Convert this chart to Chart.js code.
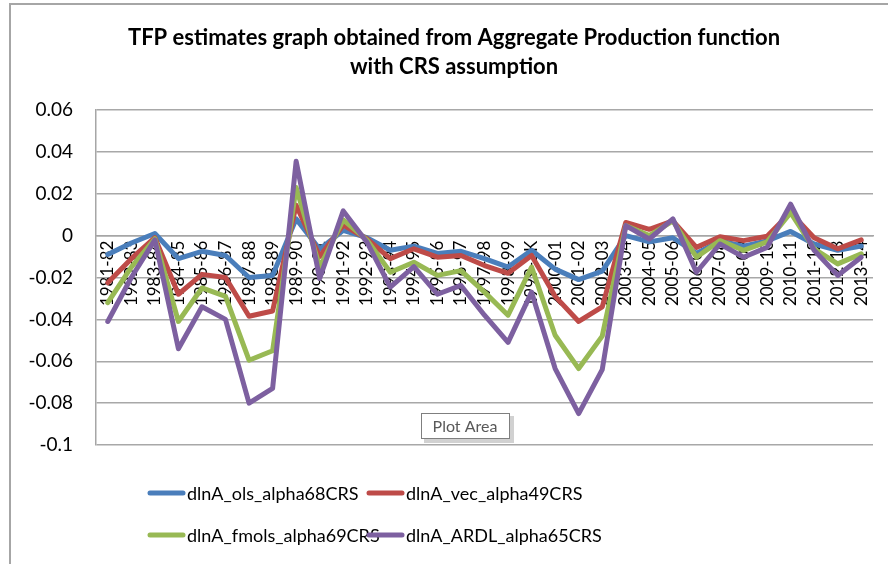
<!DOCTYPE html>
<html>
<head>
<meta charset="utf-8">
<title>TFP estimates</title>
<script src="https://cdn.jsdelivr.net/npm/chart.js@4.4.1/dist/chart.umd.min.js"></script>
<style>
  html, body { margin: 0; padding: 0; background: #fff; }
  #wrap { position: relative; width: 888px; height: 564px; }
</style>
</head>
<body>
<div id="wrap"><canvas id="graph-tfp" width="888" height="564"></canvas></div>
<script>

// Data.
const years = [
  '1981-82', '1982-83', '1983-84', '1984-85', '1985-86', '1986-87', '1987-88',
  '1988-89', '1989-90', '1990-91', '1991-92', '1992-93', '1993-94', '1994-95',
  '1995-96', '1996-97', '1997-98', '1998-99', '1999-2K', '2000-01', '2001-02',
  '2002-03', '2003-04', '2004-05', '2005-06', '2006-07', '2007-08', '2008-09',
  '2009-10', '2010-11', '2011-12', '2012-13', '2013-14'
];

const olsAlpha68 = [
  -0.009, -0.0035, 0.001, -0.011, -0.0075, -0.0095, -0.020, -0.019, 0.008,
  -0.0065, 0.0025, -0.001, -0.007, -0.005, -0.0085, -0.0075, -0.011, -0.015,
  -0.007, -0.016, -0.021, -0.017, 0.000, -0.003, -0.001, -0.0085, -0.0025,
  -0.005, -0.0025, 0.002, -0.004, -0.007, -0.005
];

const vecAlpha49 = [
  -0.0225, -0.011, -0.001, -0.028, -0.0185, -0.020, -0.0385, -0.036, 0.0145,
  -0.010, 0.005, -0.0015, -0.011, -0.0063, -0.0103, -0.0095, -0.0143, -0.018,
  -0.0095, -0.029, -0.041, -0.034, 0.0063, 0.003, 0.007, -0.0056, -0.0005,
  -0.0024, -0.0003, 0.011, -0.001, -0.0063, -0.002
];

const fmolsAlpha69 = [
  -0.032, -0.015, -0.0015, -0.041, -0.025, -0.029, -0.0595, -0.055, 0.023,
  -0.015, 0.0075, -0.002, -0.0175, -0.0127, -0.019, -0.0167, -0.027, -0.038,
  -0.015, -0.0476, -0.0635, -0.048, 0.0048, 0.000, 0.007, -0.0103, -0.0024,
  -0.007, -0.003, 0.011, -0.0063, -0.0135, -0.0087
];

const ardlAlpha65 = [
  -0.041, -0.020, -0.002, -0.054, -0.034, -0.040, -0.080, -0.073, 0.0355,
  -0.0205, 0.0118, -0.003, -0.0246, -0.0148, -0.028, -0.0238, -0.038, -0.051,
  -0.027, -0.0635, -0.085, -0.064, 0.0048, -0.0016, 0.008, -0.0175, -0.004,
  -0.0103, -0.0056, 0.015, -0.007, -0.019, -0.0103
];

const seriesNames = [
  'dlnA_ols_alpha68CRS', 'dlnA_vec_alpha49CRS',
  'dlnA_fmols_alpha69CRS', 'dlnA_ARDL_alpha65CRS'
];
const seriesColors = ['#4a7ebb', '#be4b48', '#98b954', '#7d60a0'];

const titleLines = [
  'TFP estimates graph obtained from Aggregate Production function',
  'with CRS assumption'
];

const yTicks = { min: -0.1, max: 0.06, step: 0.02 };


const FONT = 'Lato, "Open Sans", sans-serif';


// Excel-ish decorations: frame, title, 2x2 legend and the "Plot Area" hint.
const decorations = {
  id: 'decorations',

  beforeDraw(chart) {
    const ctx = chart.ctx;
    ctx.save();
    ctx.strokeStyle = '#a6a6a6';
    ctx.lineWidth = 2;
    ctx.beginPath();
    ctx.moveTo(10, 564);
    ctx.lineTo(10, 4);
    ctx.lineTo(888, 4);
    ctx.stroke();
    ctx.restore();
  },

  afterDraw(chart) {
    const ctx = chart.ctx;
    ctx.save();

    // title
    ctx.fillStyle = '#000';
    ctx.textAlign = 'center';
    ctx.textBaseline = 'middle';
    ctx.font = 'bold 22px ' + FONT;
    ctx.fillText(titleLines[0], 454, 38);
    ctx.fillText(titleLines[1], 454, 67);

    // legend, two columns
    const cols = [150, 369];
    const rows = [493, 535];
    ctx.font = '18px ' + FONT;
    ctx.textAlign = 'left';
    chart.data.datasets.forEach((ds, i) => {
      const x = cols[i % 2];
      const y = rows[Math.floor(i / 2)];
      ctx.strokeStyle = ds.borderColor;
      ctx.lineWidth = 5;
      ctx.lineCap = 'round';
      ctx.beginPath();
      ctx.moveTo(x, y);
      ctx.lineTo(x + 33, y);
      ctx.stroke();
      ctx.fillStyle = '#000';
      ctx.fillText(ds.label, x + 37, y + 1);
    });

    // "Plot Area" hover box
    ctx.fillStyle = 'rgba(0,0,0,0.18)';
    ctx.fillRect(424, 416, 90, 27);
    ctx.fillStyle = '#fff';
    ctx.fillRect(421, 413, 89, 26);
    ctx.strokeStyle = '#7f7f7f';
    ctx.lineWidth = 1;
    ctx.strokeRect(421.5, 413.5, 88, 25);
    ctx.fillStyle = '#595959';
    ctx.textAlign = 'center';
    ctx.font = '16px ' + FONT;
    ctx.fillText('Plot Area', 465, 427);

    ctx.restore();
  }
};


function buildDatasets() {
  /*
   * One line per estimate, purple drawn on top like in Excel.
   */
  const values = [olsAlpha68, vecAlpha49, fmolsAlpha69, ardlAlpha65];
  return values.map((data, i) => ({
    label: seriesNames[i],
    data: data,
    borderColor: seriesColors[i],
    backgroundColor: seriesColors[i],
    borderWidth: 5,
    borderJoinStyle: 'round',
    borderCapStyle: 'round',
    pointRadius: 0,
    tension: 0,
    order: values.length - i,
  }));
}


const ctx = document.getElementById('graph-tfp');
const graph = new Chart(ctx, {
  type: 'line',
  data: {
    labels: years,
    datasets: buildDatasets(),
  },
  options: {
    responsive: false,
    animation: false,
    devicePixelRatio: 1,
    layout: {
      padding: { left: 0, right: 15, top: 110, bottom: 119 },
    },
    plugins: {
      legend: { display: false },
      title: { display: false },
      tooltip: { enabled: false },
    },
    scales: {
      x: {
        type: 'category',
        offset: true,
        position: { y: 0 },
        z: 1,
        grid: { display: false, drawTicks: false },
        border: { display: true, color: '#a6a6a6', width: 1.5 },
        ticks: {
          autoSkip: false,
          minRotation: 90,
          maxRotation: 90,
          padding: 5,
          color: '#000',
          font: { family: FONT, size: 17 },
        },
      },
      y: {
        min: yTicks.min,
        max: yTicks.max,
        afterFit(scale) { scale.width = 96; },
        grid: { color: '#a8a8a8', lineWidth: 1.5, drawTicks: false },
        border: { display: true, color: '#a6a6a6', width: 1.5 },
        ticks: {
          stepSize: yTicks.step,
          padding: 23,
          color: '#000',
          font: { family: FONT, size: 19 },
          callback: (v) => String(parseFloat(Number(v).toFixed(2))),
        },
      },
    },
  },
  plugins: [decorations],
});
</script>
</body>
</html>
